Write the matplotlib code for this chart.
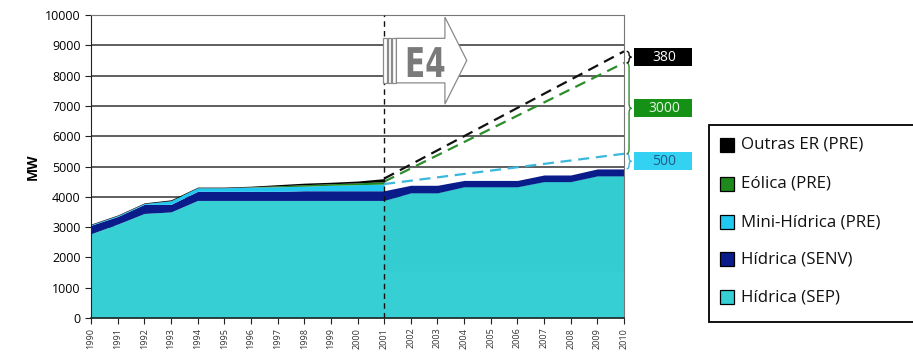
import numpy as np
import matplotlib
matplotlib.use('Agg')
import matplotlib.pyplot as plt
from matplotlib.patches import Rectangle, Polygon, PathPatch
from matplotlib.path import Path
from matplotlib.textpath import TextPath
from matplotlib.font_manager import FontProperties
from matplotlib.transforms import Affine2D

plt.rcParams['font.family'] = ['Open Sans', 'DejaVu Sans']

# installed capacity (MW), 1990-2010
years = np.arange(1990, 2011)
sep = [2780, 3100, 3450, 3500, 3880, 3880, 3880, 3880, 3880, 3880, 3880,
       3880, 4130, 4130, 4330, 4330, 4330, 4500, 4500, 4690, 4690]
senv = [280, 250, 300, 250, 300, 300, 300, 300, 320, 320, 320,
        320, 250, 250, 210, 210, 210, 220, 220, 230, 230]

# PRE history, 1990-2001
hist_years = np.arange(1990, 2002)
mini = [20, 30, 30, 120, 120, 120, 140, 150, 150, 180, 200, 220]
eolica = [0, 0, 0, 0, 0, 0, 10, 30, 50, 50, 60, 80]
outras = [20, 20, 20, 30, 20, 20, 20, 40, 50, 50, 60, 100]

# E4 targets added by 2010
target_labels = ['500', '3000', '380']
target_values = [500, 3000, 380]

c_sep = '#36d0d4'
c_senv = '#0a1c8a'
c_mini = '#22c8f0'
c_eol = '#1e8a1e'
c_out = '#000000'

W, H = 913, 352
fig = plt.figure(figsize=(9.13, 3.52), dpi=100)
ax = fig.add_axes([91 / W, 1 - 318 / H, 533 / W, 303 / H])

sep = np.array(sep)
senv_top = sep + np.array(senv)
ax.fill_between(years, 0, sep, color=c_sep, lw=0, zorder=2)
# slightly darker shade over the projected period
proj = years >= 2001
ax.fill_between(years[proj], 1550, sep[proj], color='#33ccd0', lw=0, zorder=2)
ax.fill_between(years, sep, senv_top, color=c_senv, lw=0, zorder=2)

n = len(hist_years)
base = senv_top[:n]
mini_top = base + np.array(mini)
eol_top = mini_top + np.array(eolica)
out_top = eol_top + np.array(outras)
ax.fill_between(hist_years, base, mini_top, color=c_mini, lw=0, zorder=2)
ax.fill_between(hist_years, mini_top, eol_top, color=c_eol, lw=0, zorder=2)
ax.fill_between(hist_years, eol_top, out_top, color=c_out, lw=0, zorder=2)

# projected lines 2001 -> 2010
levels = senv_top[-1] + np.cumsum(target_values)
starts = [mini_top[-1], eol_top[-1], out_top[-1]]
line_cols = ['#3ab8dc', '#2e8b2e', '#111111']
for s, e, c in zip(starts, levels, line_cols):
    ax.plot([2001, 2010], [s, e], color=c, lw=1.6, dashes=(5, 3), zorder=3)

ax.axvline(2001, color='#111111', lw=1, dashes=(4, 3), zorder=4)

ax.set_xlim(1990, 2010)
ax.set_ylim(0, 10000)
ax.set_yticks(np.arange(0, 10001, 1000))
ax.set_xticks(years)
ax.set_xticklabels([str(y) for y in years], rotation=90, fontsize=6.5, color='#333333')
ax.tick_params(axis='y', labelsize=9, length=4, direction='out', color='#222222')
ax.tick_params(axis='x', length=4, direction='out', color='#222222', pad=3)
ax.grid(axis='y', color='#333333', lw=1.1, zorder=1)
ax.set_axisbelow(True)
for sp in ['top', 'right']:
    ax.spines[sp].set_color('#777777')
ax.spines['left'].set_color('#222222')
ax.spines['bottom'].set_color('#222222')
ax.spines['bottom'].set_linewidth(1.2)
ax.set_ylabel('MW', fontsize=10, fontweight='bold', labelpad=4)


def brace(ax, x, y0, y1, w, color):
    ym = (y0 + y1) / 2
    r = min(150, (y1 - y0) / 4)
    xm = x + w / 2
    verts = [(x, y1), (xm, y1), (xm, y1 - r), (xm, ym + r), (xm, ym), (x + w, ym),
             (xm, ym), (xm, ym - r), (xm, y0 + r), (xm, y0), (x, y0)]
    codes = [Path.MOVETO, Path.CURVE3, Path.CURVE3, Path.LINETO, Path.CURVE3, Path.CURVE3,
             Path.CURVE3, Path.CURVE3, Path.LINETO, Path.CURVE3, Path.CURVE3]
    ax.add_patch(PathPatch(Path(verts, codes), fc='none', ec=color, lw=1, clip_on=False, zorder=5))


box_cols = ['#33d2f2', '#159215', '#000000']
txt_cols = ['#1e5a8a', '#e8f5e8', '#ffffff']
brace_cols = ['#3ab8dc', '#2e8b2e', '#111111']
lows = np.concatenate([[senv_top[-1]], levels[:-1]])
for lo, hi, lab, bc, tc, brc in zip(lows, levels, target_labels, box_cols, txt_cols, brace_cols):
    brace(ax, 2010.1, lo, hi, 0.18, brc)
    mid = (lo + hi) / 2
    ax.add_patch(Rectangle((2010.38, mid - 300), 2.17, 600, fc=bc, ec='none', clip_on=False, zorder=5))
    ax.text(2011.5, mid, lab, ha='center', va='center', fontsize=10, color=tc, zorder=6)

# E4 arrow
for x0 in [2000.97, 2001.14, 2001.3]:
    ax.add_patch(Rectangle((x0, 7760), 0.13, 1470, fc='white', ec='#8a8a8a', lw=0.9, zorder=5))
arrow = [(2001.46, 9230), (2003.28, 9230), (2003.28, 9930), (2004.1, 8500),
         (2003.28, 7060), (2003.28, 7760), (2001.46, 7760)]
ax.add_patch(Polygon(arrow, closed=True, fc='white', ec='#8a8a8a', lw=0.9, zorder=5))
tp = TextPath((0, 0), 'E4', size=41, prop=FontProperties(family='DejaVu Sans', weight='bold'))
fig.add_artist(PathPatch(tp, fc='#7a7a7a', ec='none',
                         transform=Affine2D().scale(0.72, 1.0).translate(405, H - 77), zorder=6))

# legend box
legend_names = ['Outras ER (PRE)', 'Eólica (PRE)', 'Mini-Hídrica (PRE)', 'Hídrica (SENV)', 'Hídrica (SEP)']
legend_cols = [c_out, c_eol, c_mini, c_senv, c_sep]
fig.add_artist(Rectangle((709 / W, 1 - 322 / H), 220 / W, 197 / H, fc='white', ec='black',
                         lw=1.3, transform=fig.transFigure))
row_y = [145, 184, 222, 259, 297]
for yy, name, col in zip(row_y, legend_names, legend_cols):
    fig.add_artist(Rectangle((720 / W, 1 - (yy + 7) / H), 14 / W, 14 / H, fc=col, ec='black',
                             lw=0.9, transform=fig.transFigure))
    fig.text(741 / W, 1 - yy / H, name, ha='left', va='center', fontsize=12.2, color='#111111')

fig.savefig('out.png', dpi=100)
